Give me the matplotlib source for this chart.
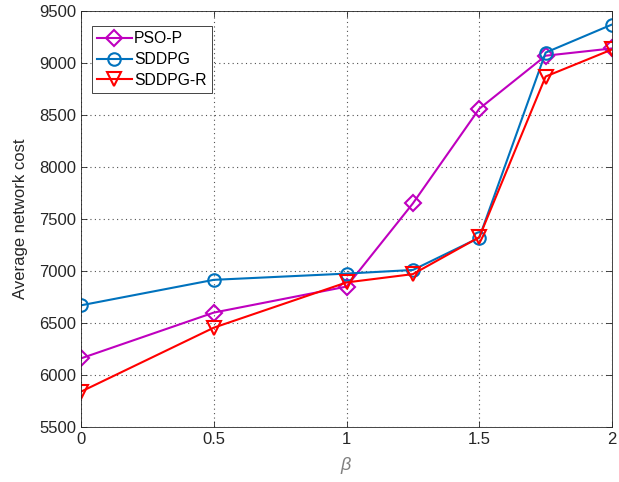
import matplotlib.pyplot as plt

plt.rcParams['font.family'] = ['Liberation Sans', 'DejaVu Sans']
plt.rcParams['mathtext.fontset'] = 'custom'
plt.rcParams['mathtext.it'] = 'Liberation Sans:italic'

beta = [0, 0.5, 1, 1.25, 1.5, 1.75, 2]
pso_p = [6160, 6600, 6850, 7650, 8560, 9070, 9140]
sddpg = [6670, 6915, 6975, 7010, 7320, 9100, 9370]
sddpg_r = [5840, 6455, 6890, 6970, 7325, 8870, 9130]

x_ticks = [0, 0.5, 1, 1.5, 2]
x_tick_labels = ['0', '0.5', '1', '1.5', '2']
y_ticks = list(range(5500, 9501, 500))

fig = plt.figure(figsize=(6.19, 4.82), dpi=100)
ax = fig.add_axes([0.1309, 0.1141, 0.8578, 0.8631])

ax.plot(beta, pso_p, color='#BF00BF', lw=1.5, marker='D', ms=8, mfc='none',
        mew=1.5, label='PSO-P')
ax.plot(beta, sddpg, color='#0072BD', lw=1.5, marker='o', ms=9, mfc='none',
        mew=1.5, label='SDDPG')
ax.plot(beta, sddpg_r, color='#FF0000', lw=1.5, marker='v', ms=10, mfc='none',
        mew=1.5, label='SDDPG-R')

ax.set_xlim(0, 2)
ax.set_ylim(5500, 9500)
ax.set_xticks(x_ticks)
ax.set_xticklabels(x_tick_labels)
ax.set_yticks(y_ticks)

ax.tick_params(direction='in', top=True, right=True, labelsize=12,
               colors='#262626', length=4, width=0.6)
for s in ax.spines.values():
    s.set_linewidth(0.6)
    s.set_color('#262626')

ax.grid(True, linestyle=(0, (1, 3)), color='#262626', linewidth=0.8, alpha=0.8)

ax.set_xlabel(r'$\it{\beta}$', fontsize=13, color='#7f7f7f', labelpad=6)
ax.set_ylabel('Average network cost', fontsize=12, color='#262626', labelpad=8)

leg = ax.legend(loc='upper left', bbox_to_anchor=(0.02, 0.965), fontsize=11.3,
                fancybox=False, edgecolor='#262626', framealpha=1,
                handlelength=2.2, handletextpad=0.15, borderpad=0.35,
                labelspacing=0.38, borderaxespad=0)
leg.get_frame().set_linewidth(0.6)

fig.savefig('out.png', dpi=100)
